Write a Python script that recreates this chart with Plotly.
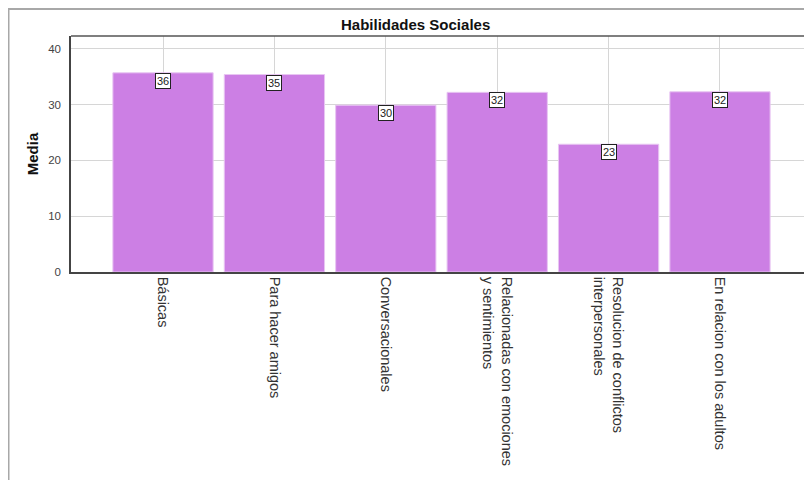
import plotly.graph_objects as go

categories = [
    "Básicas",
    "Para hacer amigos",
    "Conversacionales",
    "Relacionadas con emociones<br>y sentimientos",
    "Resolucion de conflictos<br>interpersonales",
    "En relacion con los adultos",
]
medias = [35.7, 35.4, 29.9, 32.2, 22.9, 32.3]
y_ticks = [0, 10, 20, 30, 40]

W, H = 812, 480
OFF = 8  # page body margin
L, R, T, B = 71 - OFF, OFF, 36 - OFF, 480 - (272 - OFF)
pw = W - L - R
ph = H - T - B

def px_x(px):
    return (px - OFF - L) / pw

def px_y(py):
    return (H - B - (py - OFF)) / ph

fig = go.Figure()
fig.add_trace(go.Bar(
    x=list(range(len(categories))),
    y=medias,
    marker=dict(color="#CC7FE4", line=dict(color="#E8C6F2", width=1)),
    width=0.9,
    hoverinfo="skip",
))

for i, v in enumerate(medias):
    fig.add_annotation(
        x=i, y=v, xref="x", yref="y",
        text=str(int(round(v))),
        showarrow=False, yanchor="top", yshift=0,
        font=dict(family="Liberation Sans, Arial", size=11, color="#222"),
        bgcolor="white", bordercolor="#222", borderwidth=1, borderpad=1,
    )

# chart title
fig.add_annotation(
    x=px_x(415), y=px_y(25), xref="paper", yref="paper",
    text="<b>Habilidades Sociales</b>", showarrow=False,
    font=dict(family="Liberation Sans, Arial", size=15, color="#111"),
    xanchor="center", yanchor="middle",
)

# outer frame
fig.add_shape(type="rect", xref="paper", yref="paper",
              x0=px_x(8.5), x1=px_x(830), y0=px_y(9), y1=px_y(500),
              line=dict(color="#A8A8A8", width=2), layer="above")
# top border of plot area
fig.add_shape(type="line", xref="paper", yref="paper",
              x0=0, x1=1, y0=1, y1=1,
              line=dict(color="#555", width=1.5), layer="above")

fig.update_layout(
    width=W, height=H,
    margin=dict(l=L, r=R, t=T, b=B),
    paper_bgcolor="white", plot_bgcolor="white",
    showlegend=False,
    font=dict(family="Liberation Sans, Arial", color="#333"),
)
fig.update_xaxes(
    tickmode="array", tickvals=list(range(len(categories))), ticktext=categories,
    tickangle=90, tickfont=dict(size=14.5, color="#333"),
    range=[-0.826, 5.826],
    showgrid=True, gridcolor="#D6D6D6", gridwidth=1,
    showline=True, linecolor="#444", linewidth=1.5,
    ticks="", ticklabelstandoff=0,
)
fig.update_yaxes(
    range=[0, 42.3], tickmode="array", tickvals=y_ticks,
    tickfont=dict(size=11.5, color="#444"),
    showgrid=True, gridcolor="#D6D6D6", gridwidth=1,
    showline=True, linecolor="#444", linewidth=1.5,
    zeroline=False, ticks="", ticklabelstandoff=6,
    title=dict(text="<b>Media</b>", font=dict(size=15, color="#111"), standoff=6),
)

fig.write_html("out.html")
